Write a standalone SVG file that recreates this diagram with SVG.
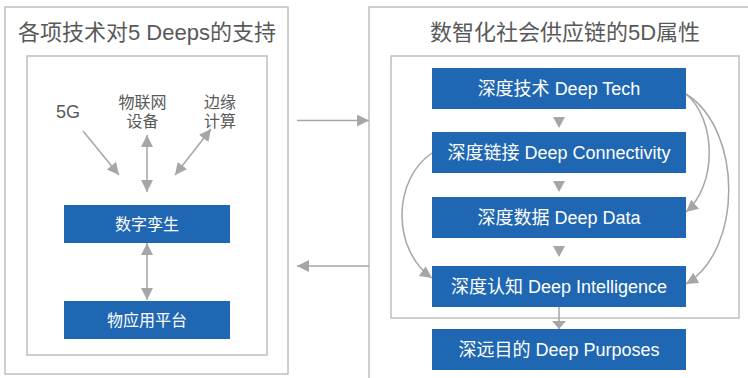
<svg xmlns="http://www.w3.org/2000/svg" width="748" height="378" viewBox="0 0 748 378">
  <defs>
    <style>
      .frame { fill: none; stroke: #bfbfbf; stroke-width: 1.5; }
      .blue { fill: #1f67b2; }
      .wt { fill: #ffffff; font-family: "Liberation Sans", "Noto Sans CJK SC", sans-serif; text-anchor: middle; dominant-baseline: central; }
      .title { fill: #595959; font-family: "Liberation Sans", "Noto Sans CJK SC", sans-serif; font-size: 22px; text-anchor: middle; }
      .lbl { fill: #595959; font-family: "Liberation Sans", "Noto Sans CJK SC", sans-serif; font-size: 16px; text-anchor: middle; }
      .big { font-size: 18px; }
      .ln { fill: none; stroke: #a6a6a6; stroke-width: 1.5; }
      .tri { fill: #a6a6a6; }
    </style>
    <marker id="ah" viewBox="0 0 12 12" refX="12" refY="6" markerWidth="12" markerHeight="12" markerUnits="userSpaceOnUse" orient="auto-start-reverse">
      <path d="M0,0 L12,6 L0,12 z" fill="#a6a6a6"/>
    </marker>
    <marker id="ahf" viewBox="0 0 8 14" refX="8" refY="7" markerWidth="8" markerHeight="14" markerUnits="userSpaceOnUse" orient="auto">
      <path d="M0,0 L8,7 L0,14 z" fill="#a6a6a6"/>
    </marker>
  </defs>

  <g id="left-panel">
    <rect class="frame" x="5" y="7" width="283" height="367"/>
    <text class="title" x="147" y="40">各项技术对5 Deeps的支持</text>
    <rect class="frame" x="27" y="56" width="240" height="299"/>
  </g>

  <g id="right-panel">
    <rect class="frame" x="369" y="7" width="390" height="390"/>
    <text class="title" x="565" y="40">数智化社会供应链的5D属性</text>
    <rect class="frame" x="391" y="56" width="348" height="262"/>
  </g>

  <g id="n-5g"><text class="lbl big" x="68" y="118">5G</text></g>
  <g id="n-iot">
    <text class="lbl" x="142.5" y="108">物联网</text>
    <text class="lbl" x="142.5" y="127">设备</text>
  </g>
  <g id="n-edge">
    <text class="lbl" x="220" y="108">边缘</text>
    <text class="lbl" x="220" y="127">计算</text>
  </g>
  <g id="n-twin">
    <rect class="blue" x="64" y="205" width="166" height="38"/>
    <text class="wt" x="147" y="224" font-size="16">数字孪生</text>
  </g>
  <g id="n-platform">
    <rect class="blue" x="64" y="301" width="166" height="38"/>
    <text class="wt" x="147" y="320" font-size="16">物应用平台</text>
  </g>

  <g id="n-tech">
    <rect class="blue" x="432" y="68" width="254" height="41"/>
    <text class="wt" x="559" y="88.5" font-size="18">深度技术 Deep Tech</text>
  </g>
  <g id="n-conn">
    <rect class="blue" x="432" y="132" width="254" height="41"/>
    <text class="wt" x="559" y="152.5" font-size="18">深度链接 Deep Connectivity</text>
  </g>
  <g id="n-data">
    <rect class="blue" x="432" y="197" width="254" height="41"/>
    <text class="wt" x="559" y="217.5" font-size="18">深度数据 Deep Data</text>
  </g>
  <g id="n-intel">
    <rect class="blue" x="432" y="266" width="254" height="41"/>
    <text class="wt" x="559" y="286.5" font-size="18">深度认知 Deep Intelligence</text>
  </g>
  <g id="n-purp">
    <rect class="blue" x="432" y="329" width="254" height="41"/>
    <text class="wt" x="559" y="349.5" font-size="18">深远目的 Deep Purposes</text>
  </g>

  <g id="connectors">
    <line class="ln" x1="83" y1="131" x2="119" y2="175" marker-end="url(#ah)"/>
    <line class="ln" x1="147" y1="135" x2="147" y2="192" marker-start="url(#ah)" marker-end="url(#ah)"/>
    <line class="ln" x1="211" y1="129" x2="175" y2="175" marker-start="url(#ah)" marker-end="url(#ah)"/>
    <line class="ln" x1="147" y1="243" x2="147" y2="300" marker-start="url(#ah)" marker-end="url(#ah)"/>

    <line class="ln" x1="297" y1="120.5" x2="369" y2="120.5" marker-end="url(#ah)"/>
    <line class="ln" x1="369" y1="266" x2="297" y2="266" marker-end="url(#ah)"/>

    <polygon class="tri" points="553,117 565,117 559,128"/>
    <polygon class="tri" points="553,181 565,181 559,192"/>
    <polygon class="tri" points="553,246 565,246 559,257"/>
    <line class="ln" x1="559" y1="307" x2="559" y2="329" marker-end="url(#ahf)"/>

    <path class="ln" d="M432,153 C392,180 392,250 432,278" marker-end="url(#ah)"/>
    <path class="ln" d="M686,94 C717,120 717,185 686,212" marker-end="url(#ah)"/>
    <path class="ln" d="M686,94 C743,130 743,250 686,284" marker-end="url(#ah)"/>
  </g>
</svg>
